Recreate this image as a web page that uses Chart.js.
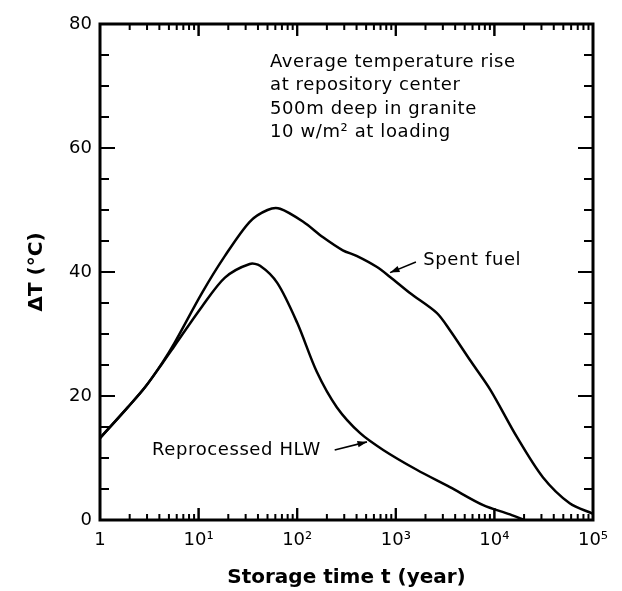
<!DOCTYPE html>
<html>
<head>
<meta charset="utf-8">
<script src="https://cdn.jsdelivr.net/npm/chart.js@4/dist/chart.umd.min.js"></script>
<style>
    body { margin: 0; background: #fff; }
    #wrap { width: 622px; height: 591px; }
</style>
</head>
<body>
<div id="wrap"><canvas id="chart" width="622" height="591"></canvas></div>
<script>
// Spent fuel curve (storage time in years, temperature rise in °C)
const spentTime = [1, 1.92, 2.86, 4.26, 5.76, 10.8, 18.5, 33, 50, 67, 115, 183, 290, 400, 645, 875, 1390, 2600, 3540, 5650, 9100, 16900, 31000, 58000, 100000];
const spentRise = [13.2, 18.2, 21.4, 25.3, 28.7, 36.6, 42.6, 48.1, 50.0, 50.2, 48.1, 45.6, 43.5, 42.6, 40.8, 39.2, 36.6, 33.4, 30.6, 25.8, 21, 13.4, 6.9, 2.7, 1.0];

// Reprocessed HLW curve
const hlwTime = [1, 1.92, 2.86, 4.26, 5.76, 10.8, 18.5, 33, 42, 63, 100, 158, 252, 435, 745, 1630, 3540, 7700, 14400, 20000];
const hlwRise = [13.2, 18.2, 21.4, 25.2, 28.2, 34.4, 39.1, 41.3, 41.0, 38.2, 31.8, 23.9, 18.2, 14, 11.3, 8.1, 5.3, 2.4, 0.9, 0];

// Tick labels
const xTickValues = [1, 10, 100, 1000, 10000, 100000];
const xTickLabels = ['1', '10¹', '10²', '10³', '10⁴', '10⁵'];
const yTickValues = [0, 20, 40, 60, 80];

const noteLines = ['Average temperature rise', 'at repository center', '500m deep in granite', '10 w/m² at loading'];

const FONT = '"DejaVu Sans", sans-serif';

function toPoints(xs, ys) {
    return xs.map((x, i) => ({ x: x, y: ys[i] }));
}

function arrow(ctx, x1, y1, x2, y2) {
    const ang = Math.atan2(y2 - y1, x2 - x1);
    ctx.beginPath();
    ctx.moveTo(x1, y1);
    ctx.lineTo(x2, y2);
    ctx.stroke();
    ctx.beginPath();
    ctx.moveTo(x2, y2);
    ctx.lineTo(x2 - 10 * Math.cos(ang - 0.33), y2 - 10 * Math.sin(ang - 0.33));
    ctx.lineTo(x2 - 10 * Math.cos(ang + 0.33), y2 - 10 * Math.sin(ang + 0.33));
    ctx.closePath();
    ctx.fill();
}

// Frame, inward ticks and notes
const framePlugin = {
    id: 'frame',
    afterDraw(chart) {
        const { ctx, chartArea: a, scales } = chart;
        const xs = scales.x, ys = scales.y;
        ctx.save();
        ctx.strokeStyle = '#000';
        ctx.fillStyle = '#000';
        ctx.lineWidth = 3;
        ctx.strokeRect(a.left, a.top, a.right - a.left, a.bottom - a.top);

        ctx.lineWidth = 2;
        // x ticks (bottom and top)
        for (let d = 0; d < 5; d++) {
            for (let m = 1; m <= 10; m++) {
                const v = m * Math.pow(10, d);
                const px = xs.getPixelForValue(v);
                const len = (m === 1 || m === 10) ? 12 : 6;
                ctx.beginPath();
                ctx.moveTo(px, a.bottom); ctx.lineTo(px, a.bottom - len);
                ctx.moveTo(px, a.top); ctx.lineTo(px, a.top + len);
                ctx.stroke();
            }
        }
        // y ticks (left and right)
        for (let v = 0; v <= 80; v += 5) {
            const py = ys.getPixelForValue(v);
            const len = v % 20 === 0 ? 15 : 9;
            ctx.beginPath();
            ctx.moveTo(a.left, py); ctx.lineTo(a.left + len, py);
            ctx.moveTo(a.right, py); ctx.lineTo(a.right - len, py);
            ctx.stroke();
        }

        // note block
        ctx.font = '18px ' + FONT;
        ctx.letterSpacing = '0.6px';
        ctx.textBaseline = 'middle';
        ctx.textAlign = 'left';
        const nx = xs.getPixelForValue(53);
        const ny = ys.getPixelForValue(73.8);
        noteLines.forEach((t, i) => ctx.fillText(t, nx, ny + i * 23.3));

        // curve labels
        ctx.fillText('Spent fuel', xs.getPixelForValue(1900), ys.getPixelForValue(41.9));
        ctx.fillText('Reprocessed HLW', xs.getPixelForValue(3.37), ys.getPixelForValue(11.3));
        ctx.letterSpacing = '0px';

        ctx.lineWidth = 1.6;
        arrow(ctx, xs.getPixelForValue(1600), ys.getPixelForValue(41.6), xs.getPixelForValue(875), ys.getPixelForValue(39.9));
        arrow(ctx, xs.getPixelForValue(240), ys.getPixelForValue(11.3), xs.getPixelForValue(510), ys.getPixelForValue(12.6));
        ctx.restore();
    }
};

const lineStyle = {
    borderColor: '#000',
    borderWidth: 2.5,
    pointRadius: 0,
    fill: false,
    showLine: true,
    tension: 0.3
};

new Chart(document.getElementById('chart').getContext('2d'), {
    type: 'scatter',
    data: {
        datasets: [
            Object.assign({ label: 'Spent fuel', data: toPoints(spentTime, spentRise) }, lineStyle),
            Object.assign({ label: 'Reprocessed HLW', data: toPoints(hlwTime, hlwRise) }, lineStyle)
        ]
    },
    options: {
        responsive: false,
        animation: false,
        events: [],
        layout: { padding: { top: 24, right: 29, left: 0, bottom: 0 } },
        plugins: { legend: { display: false }, tooltip: { enabled: false } },
        scales: {
            x: {
                type: 'logarithmic',
                min: 1,
                max: 100000,
                grid: { display: false, drawTicks: false },
                border: { display: false },
                afterBuildTicks(scale) {
                    scale.ticks = xTickValues.map(v => ({ value: v }));
                },
                ticks: {
                    autoSkip: false,
                    maxRotation: 0,
                    padding: 10,
                    color: '#000',
                    font: { family: FONT, size: 18 },
                    callback: (v) => {
                        const i = xTickValues.indexOf(v);
                        return i >= 0 ? xTickLabels[i] : '';
                    }
                },
                title: {
                    display: true,
                    text: 'Storage time t (year)',
                    color: '#000',
                    font: { family: FONT, size: 20, weight: 'bold' },
                    padding: { top: 0, bottom: 1 }
                },
                afterFit(scale) {
                    scale.height = 71;
                    scale.paddingLeft = 0;
                    scale.paddingRight = 0;
                }
            },
            y: {
                min: 0,
                max: 80,
                grid: { display: false, drawTicks: false },
                border: { display: false },
                afterBuildTicks(scale) {
                    scale.ticks = yTickValues.map(v => ({ value: v }));
                },
                ticks: {
                    padding: 8,
                    color: '#000',
                    font: { family: FONT, size: 18 }
                },
                title: {
                    display: true,
                    text: 'ΔT (°C)',
                    color: '#000',
                    font: { family: FONT, size: 20, weight: 'bold' },
                    padding: { top: 25, bottom: 0 }
                },
                afterFit(scale) {
                    scale.width = 100;
                    scale.paddingTop = 0;
                    scale.paddingBottom = 0;
                }
            }
        }
    },
    plugins: [framePlugin]
});
</script>
</body>
</html>
